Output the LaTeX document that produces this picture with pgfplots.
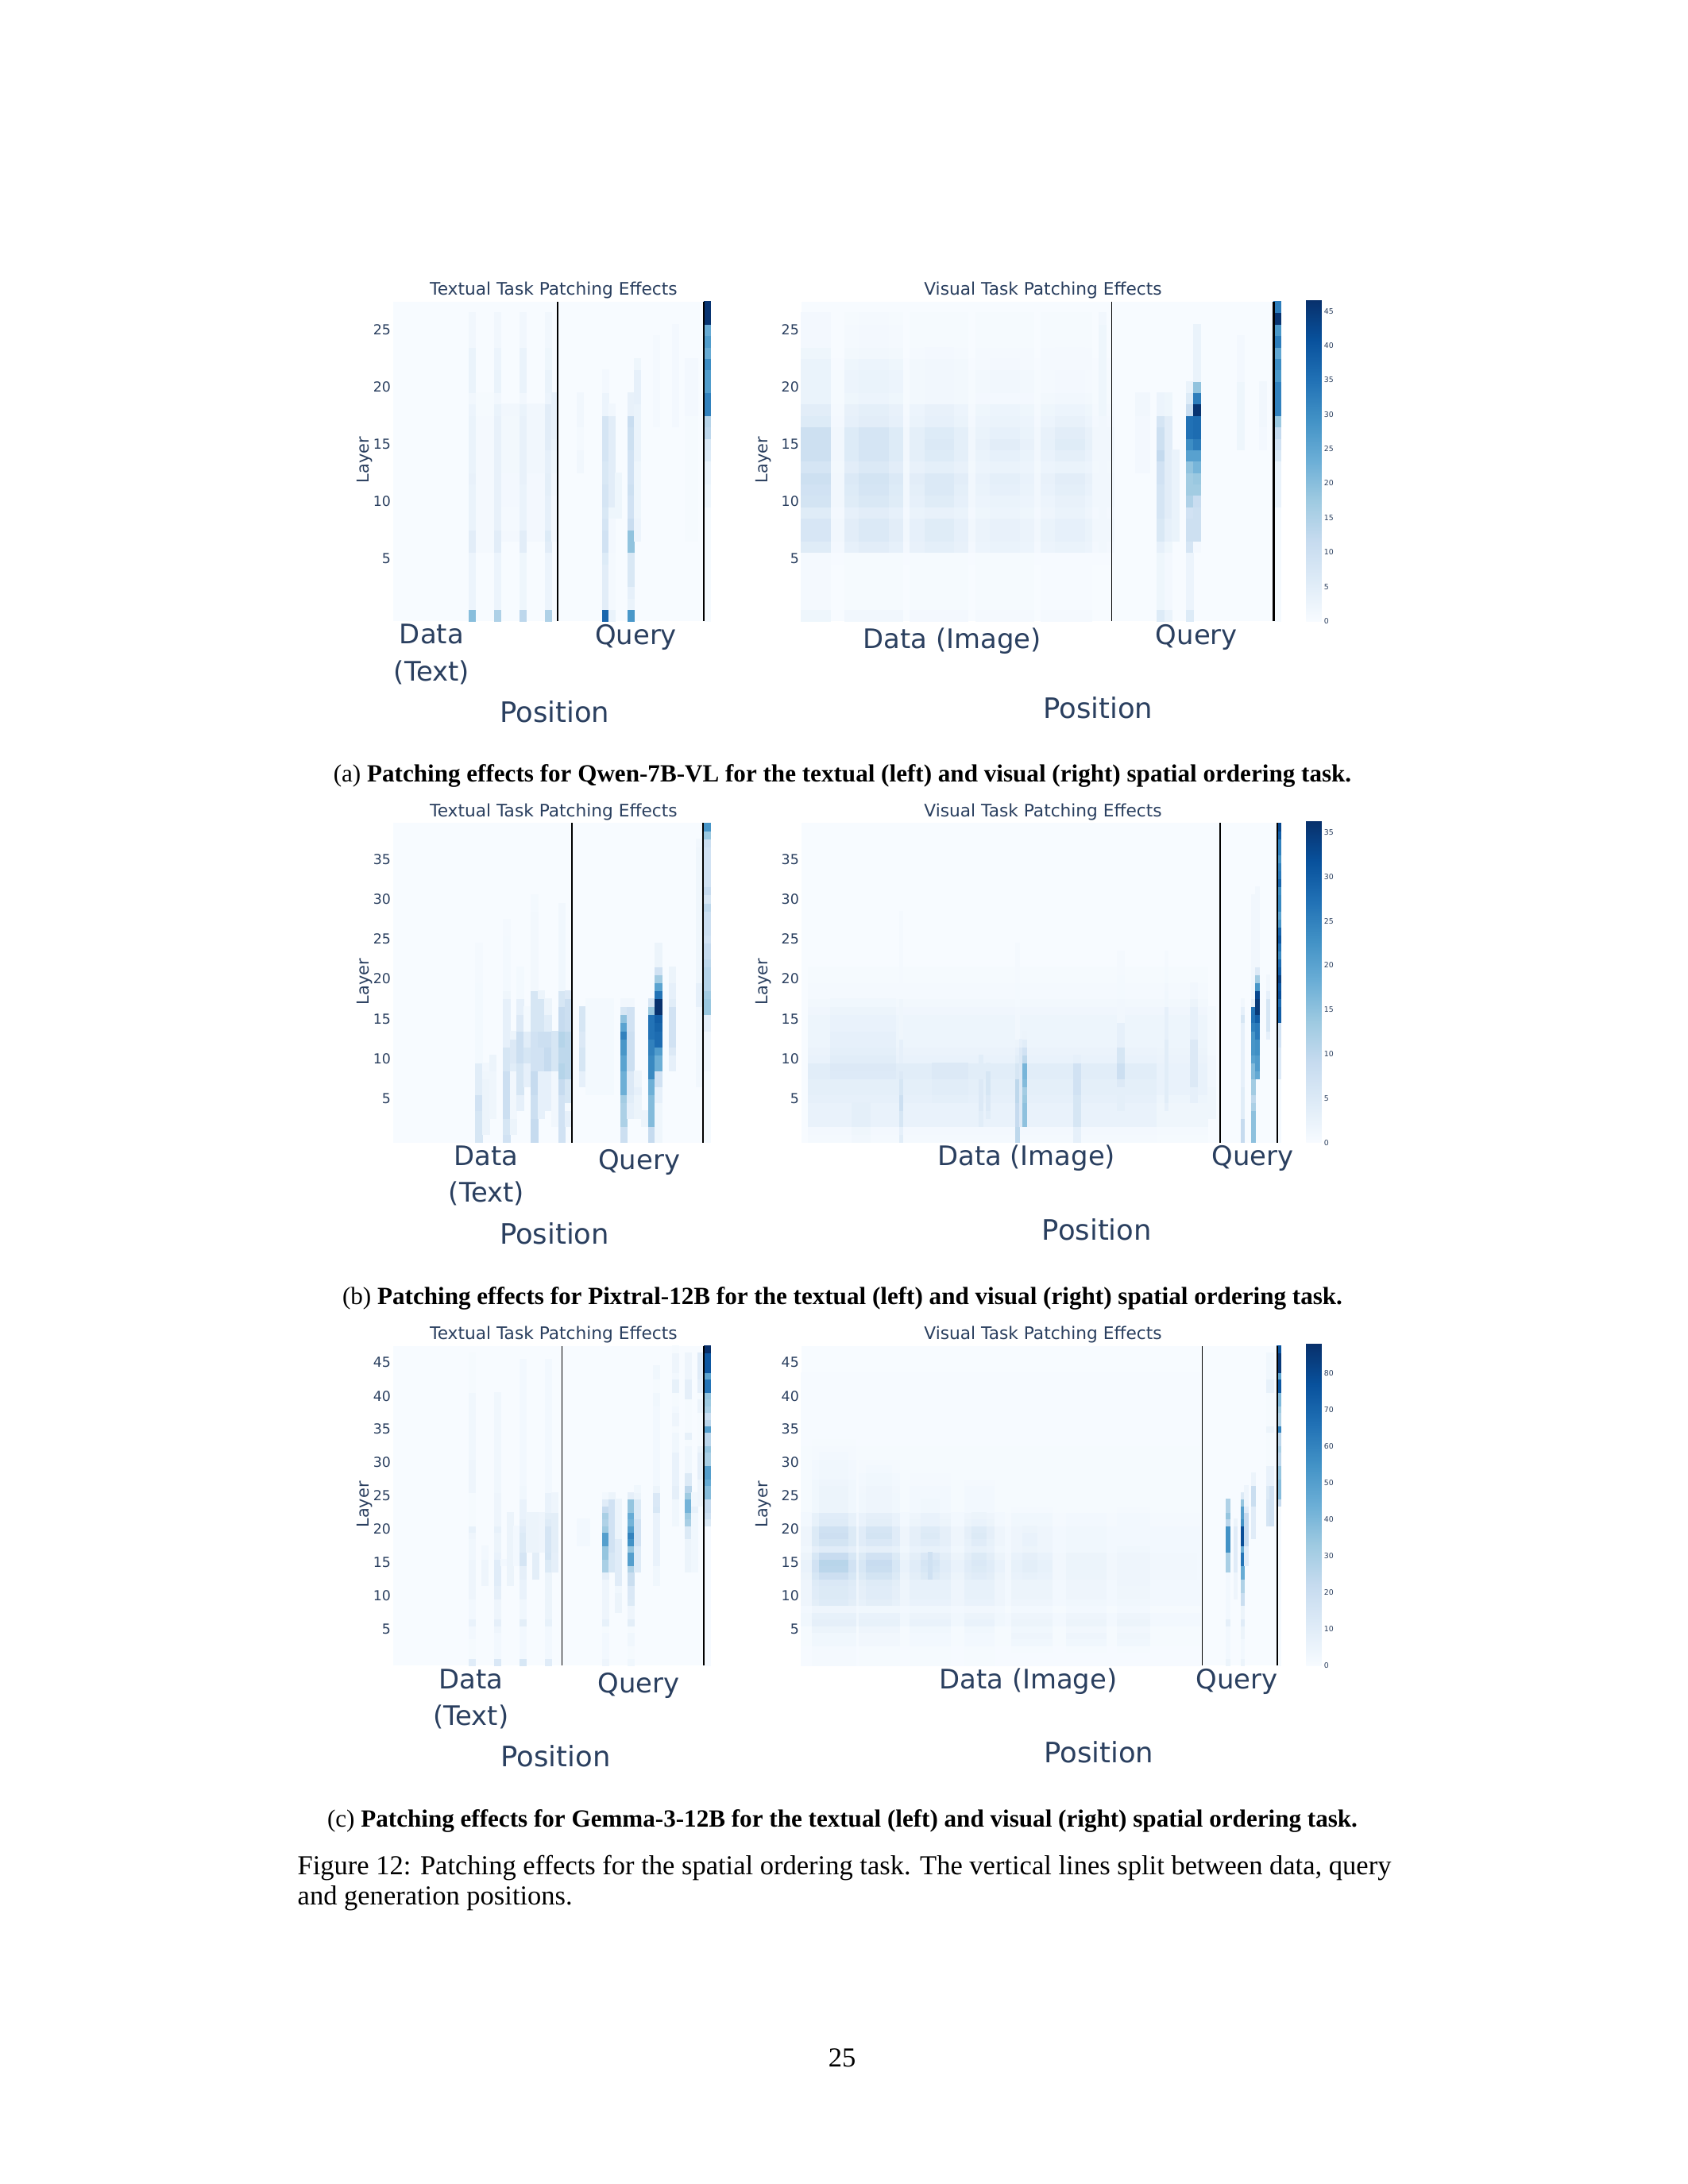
\documentclass[border=0pt]{standalone}
\usepackage{fontspec}
\usepackage{pgfplots}
\usepgfplotslibrary{patchplots}
\pgfplotsset{compat=1.18}
\setmainfont{Liberation Serif}
\newfontfamily\dejavu{DejaVu Sans}
\definecolor{ink}{HTML}{2A3F5F}
\definecolor{blues0}{HTML}{F7FBFF}
\newdimen\pxu \pxu=0.288pt

% cell lists: \Col{x0}{x1}{first row}{values going up}
\newcount\rowi
\newcommand\StartHeat{\gdef\heat{}}
\newcommand\Col[4]{%
  \global\rowi=#3\relax
  \foreach \val in {#4}{%
    \ifdim\val pt>0pt
      \xdef\heat{\heat (#1,\the\rowi) [\val] (#2,\the\rowi) [\val] (#2,\the\numexpr\rowi+1\relax) [\val] (#1,\the\numexpr\rowi+1\relax) [\val] }%
    \fi
    \global\advance\rowi by 1
  }%
}
\newcommand\PlotHeat[1]{%
  \edef\plotcmd{\noexpand\addplot[patch,patch type=rectangle,shader=flat,point meta=explicit,line width=0pt] coordinates {#1};}\plotcmd
}

\pgfplotsset{
  /pgf/number format/assume math mode=true,
  colormap={Blues}{rgb255=(247,251,255) rgb255=(222,235,247) rgb255=(198,219,239) rgb255=(158,202,225) rgb255=(107,174,214) rgb255=(66,146,198) rgb255=(33,113,181) rgb255=(8,81,156) rgb255=(8,48,107)},
  heatmap/.style={
    scale only axis, anchor=north west, colormap name=Blues,
    axis line style={draw=none}, major tick length=0pt, tick style={draw=none},
    axis background/.style={fill=blues0},
    xmin=0, ymin=0, point meta min=0,
    title={\dejavu #1 Task Patching Effects},
    title style={font=\fontsize{6.25}{7}\selectfont,text=ink,anchor=base,yshift=-13\pxu,xshift=2.5\pxu,inner sep=0pt},
    ylabel=Layer, xlabel=Position,
    y tick label style={font=\dejavu\fontsize{5}{6}\selectfont,text=ink,inner sep=0pt,xshift=-2\pxu},
  },
  left panel/.style={heatmap=Textual, width=399.6\pxu, height=402.5\pxu,
    every axis y label/.style={at={(axis description cs:-0.089,0.504)},rotate=90,anchor=center,font=\dejavu\fontsize{6}{7}\selectfont,text=ink}},
  right panel/.style={heatmap=Visual, width=604\pxu, height=402.5\pxu,
    every axis y label/.style={at={(axis description cs:-0.0785,0.504)},rotate=90,anchor=center,font=\dejavu\fontsize{6}{7}\selectfont,text=ink}},
  x place/.style n args={3}{every axis x label/.style={at={(axis description cs:#1,0)},anchor=base,yshift=-#2\pxu,font=\dejavu\fontsize{10.2}{12}\selectfont,text=ink,inner sep=0pt},
    x tick label style={font=\dejavu\fontsize{9.75}{13.3}\selectfont,text=ink,anchor=base,align=center,inner sep=0pt,yshift=-#3\pxu}},
  bar style/.style n args={2}{colorbar, colorbar style={at={(parent axis.south east)},anchor=south west,xshift=2.2\pxu,
    width=19.3\pxu,height=#1\pxu,axis line style={draw=none},major tick length=0pt,tick style={draw=none},ytick={#2},
    y tick label style={font=\dejavu\fontsize{2.7}{3}\selectfont,text=ink,inner sep=0pt,xshift=2.5\pxu}}},
}

% ---- Qwen textual, 28 layers x 50 positions, scale to 46.7
\StartHeat
\Col{13}{16}{6}{0.7,0.8,0.7,0.7,0.7,0.7,0.7,0.7,0.7,0.7,0.7,0.7,0.5,0.5}
\Col{17}{20}{7}{1,0.8,0.8,1,1,1,1.2,1.2,1.2,1.2,1.2,1.5}
\Col{21}{24}{7}{1,1,1,1,1,1,1.3,1.5,1.5,1.5,1.5,1.5}
\Col{12}{13}{0}{20,2.5,2.5,2.5,2.5,2.5,5,5,3,3,3,3,3.5,3,3,3,3,3,2.5,1.5,3,3,3,3,1.5,1.5,1.5}
\Col{16}{17}{0}{15,2.5,2.5,2.5,2.5,2.5,5,5,3.5,3.5,3.5,3.5,3.5,3.5,3.5,3.5,3.5,3.5,3,1.5,3,3,2.5,2.5,1.5,1.5,1.5}
\Col{20}{21}{0}{13,2,2,2,2,2,5,5,3,3,3,3,3.5,3.5,3.5,3.5,3.5,3.5,3,1.5,3,3,3,3,1.5,1.5,1.5}
\Col{24}{25}{0}{15,2.5,2.5,2.5,2.5,2.5,5,6,4,4,4,4.5,4.5,4,4,5,5,5,5,2.5,3,3,2,2,1.5,1.5,1.5}
\Col{25}{26}{7}{1,1,1,1,1.5,1.5,2,2,3,3.5,3.5,3.5,3.5}
\Col{29}{30}{13}{1.5,1.5,0.7,0.7,1.5,1.5,1.5}
\Col{33}{34}{0}{37,5,5,5,5,6,9,9,8,7,8,8,7,7,8,8,8,8,2.5,2.5,1,1}
\Col{34}{35}{0}{3,0.7,0.7,0.7,0.7,0.7,1,1,1,2,5,5,5,5,5,5,5,5,1.5}
\Col{35}{36}{9}{2,2,2,2}
\Col{37}{38}{0}{28,3,4,7,7,7,19,19,11,9,9,10,9,9,9,10,10,11,3.5,3.5}
\Col{38}{39}{7}{2.5,2.5,2,2,2,2,2,3,3,3,3,3,4,4,4,2}
\Col{41}{42}{17}{0.7,0.7,0.7,0.7,0.7,0.7,0.7,0.7}
\Col{44}{45}{17}{1,1,1,1,1,1,1,1,1}
\Col{46}{48}{7}{0.5,0.5,0.5,0.5,0.5,0.5,0.5,0.5,0.5,0.5,0.5,1,1,1,1,1}
\Col{49}{50}{0}{0.5,0.5,0.5,0.5,0.5,0.5,0.5,0.5,0.5,0.5,2,2,3,3,6,7,13,14,32,32,27,27,30,24,27,24,46,46}
\global\let\heatQT\heat

% ---- Qwen visual, 28 layers x 66 positions, scale to 46.7
\StartHeat
\Col{0}{43}{5}{0.3,1,1.5,1.5,1,1.5,1.5,1.5,1.2,1.5,1.5,1.5,1,0.8,0.5,0.5,0.5,0.3}
\Col{0}{4}{0}{2,0.8,0.8,0.8,0.8,0.8,5.5,7.5,7.5,5.5,8.5,9,10,8,10,10,10,6,5,3,3,3,3,2,1,1,1}
\Col{6}{14}{0}{1.5,0.5,0.5,0.5,0.5,0.5,4,5,5,4,5.5,6,6.5,5,6,6,6,4,3.5,2,2.5,2.5,2,1.2,0.8,0.8,0.5}
\Col{8}{12}{5}{0.5,5,6.5,6.5,5,7,8,8.5,6.5,8,8,8,5,4.5,2.5,3,3,2.5,1.5,1,1,0.7}
\Col{15}{23}{0}{1,0.5,0.5,0.5,0.5,0.5,3.5,4,4,3,4,4.5,5,3.5,4.5,4.5,4.5,3,2.5,1.2,1.2,1.2,1.2,0.8,0.5,0.5,0.5}
\Col{17}{21}{6}{4.5,5.5,5.5,3.5,5.5,6.5,6.5,4.5,6,6.5,6,4,3.5,1.5,1.5,1.5,1.5,1}
\Col{24}{32}{0}{0.8,0.4,0.4,0.4,0.4,0.4,2.5,2.8,2.8,2,2.5,3,3.2,2.5,3,3.5,3,2.5,2,1,1.2,1.2,0.8,0.6,0.4,0.4,0.4}
\Col{26}{30}{6}{3,3.5,3.5,2.5,3,4,4.5,3,4,5,4,3,2.5,1,1.5,1.5,1}
\Col{33}{40}{0}{0.8,0.3,0.3,0.3,0.3,0.3,2.5,3,3,2.2,2.5,3.2,3.5,2.5,3.2,3.8,3.5,2.5,2,1.2,0.8,0.8,0.6,0.6,0.4,0.4,0.4}
\Col{35}{39}{6}{3,4,4,3,3.5,4.5,5,3,4.5,5.5,5,3.5,2.5,1.5,1,1,0.7,0.7}
\Col{41}{42}{6}{1.5,1.5,1.5,1.5,1.5,1.5,1.5,1.5,1.5,1.5,1.5,1.5,2,2,2,2,2,2,2,2,1.5}
\Col{46}{48}{13}{1,1,1,1,1,1.5,1.5}
\Col{49}{50}{0}{6,2,2,2,2,2,4,7,7,8,8,8,9,9,12,10,10,8,2.5,2.5}
\Col{50}{51}{0}{3,1,1,1,1,1,2,4,4,5,5,5,5,5,5,5,5,5,2,2}
\Col{51}{52}{7}{3,3,3,3,3,3,3,3}
\Col{53}{54}{0}{6,2.5,2.5,2.5,2.5,2.5,8,10,10,9,15,17,17,19,26,30,35,35,11,6,3}
\Col{54}{55}{6}{1,10,10,10,11,17,18,22,26,33,36,36,46,33,19,3,3,3,3,3}
\Col{60}{61}{15}{2,2,2,2,2,2,1,1,1,1}
\Col{63}{64}{15}{1,1,1.5,1.5,1.5,1.5}
\Col{65}{66}{0}{0.5,0.5,0.5,0.5,0.5,0.5,0.5,0.5,0.5,0.5,3,3,3,3,7,9,12,18,32,32,32,28,30,25,33,28,46,33}
\global\let\heatQV\heat

% ---- Pixtral textual, 40 layers x 46 positions, scale to 36.3
\StartHeat
\Col{12}{13}{0}{6,6,6,6,7,7,4,4,4,4,0.7,0.7,0.7,0.7,0.7,0.7,0.7,0.7,0.7,0.7,0.5,0.5,0.5,0.5,0.5}
\Col{13}{14}{1}{2,2,2,2,2,2,2,1.5,1}
\Col{14}{15}{3}{1.5,1.5,1.5,1.5,1.5,1.5,2,2}
\Col{16}{17}{0}{7,6,6,8,8,8,8,8,8,6,6,6,3,3,3,3,3,3,1.5,0.7,0.7,0.7,0.7,0.7,0.7,0.7,0.5,0.5}
\Col{17}{18}{1}{2,2,1,1,1,1,1,1,4,5,5,5,2}
\Col{18}{19}{4}{3,3,6,6,6,6,8,8,8,8,5,5,3,3,0.7,0.7,0.7,0.7}
\Col{19}{20}{7}{3,3,3,6,6,4,4,0.7,0.7,0.7}
\Col{20}{21}{0}{9,9,9,8,8,8,9,9,9,7,7,7,7,7,6,6,6,6,6,0.9,0.9,0.9,0.9,0.9,0.9,0.9,0.9,0.9,0.9,0.7,0.7}
\Col{21}{22}{3}{3,3,3,3,3,3,7,7,7,8,8,6,6,6,6,2}
\Col{22}{23}{4}{3,3,3,3,3,9,9,9,8,8,4,4,2,2}
\Col{23}{24}{2}{1,1,1,1,1,1,1,6,6,6,6,6}
\Col{24}{25}{0}{7,7,7,7,7,7,9,9,11,11,10,10,11,11,9,9,9,6,6,1.2,1.2,1.2,1.2,1.2,1.2,1.2,1.2,1.2,1,1}
\Col{25}{26}{2}{3,3,0.5,6,6,6,10,10,10,10,10,10,8,8,8,8,5}
\Col{27}{28}{7}{3,3,6,6,6,5,5,6,6,6}
\Col{28}{32}{6}{0.7,0.7,0.7,0.7,0.7,0.7,0.7,0.7,0.7,0.7,0.7,0.7}
\Col{33}{34}{0}{8,8,12,12,12,13,18,18,18,20,20,22,22,25,20,15,6,1}
\Col{34}{35}{3}{3,3,4,5,5,5,8,8,8,8,8,7,7,7,1}
\Col{35}{36}{3}{2,2,2,3,2,2}
\Col{36}{37}{2}{2,2}
\Col{37}{38}{0}{9,9,16,16,16,16,18,18,24,24,24,25,25,27,27,27,14,6}
\Col{38}{39}{0}{1.5,1.5,1.5,1.5,1.5,3,3,7,7,18,18,21,28,28,29,30,36,36,27,20,13,7,2,2,2}
\Col{40}{41}{9}{3,3,5,7,7,7,7,7,4,3,3,2,2}
\Col{44}{45}{7}{1,1,1,1,1,1,1,1,1,1,3,3,3,1.5,1.5,1.5,1.5,1.5,1.5,1.5,1.5,1.5,1.5,1.5,1.5,1.5,1.5,1.5,1.5,1.5,1}
\Col{45}{46}{0}{0.3,0.3,0.3,0.3,0.3,0.3,0.3,0.3,0.3,1,1,1,1,1,3,3,14,14,13,11,11,11,10,9,9,7,8,8,8,10,6,9,7,7,7,7,7,8,14,22}
\global\let\heatPT\heat

% ---- Pixtral visual, 40 layers x 132 positions, scale to 36.3
\StartHeat
\Col{2}{98}{0}{0.6,0.8,2.5,2.5,2.5,3,3.5,3.5,4,4,2.5,2.2,1.8,1.8,1.8,1.8,1.3,0.9,0.6,0.6,0.4,0.4}
\Col{98}{112}{0}{0.4,0.6,1.5,1.5,1.5,1.8,2.5,2.5,2.5,2.5,2.2,2,1.8,1.8,1.8,1.8,1.3,0.9,0.6,0.6,0.4,0.4}
\Col{8}{26}{8}{4.8,5,4,3.5,3,3,2.5,2.5,2,1.2}
\Col{14}{19}{0}{1,1.5,3.5,3.5,3.5}
\Col{27}{28}{0}{4,3,6,6,8,8,6,6,5,4,3,3,3,1.5,1.5,1.5,1.5,1.5,0.5,0.5,0.5,0.5,0.5,0.5,0.5,0.5,0.5,0.5,0.5}
\Col{36}{46}{5}{3.5,4,4,5,5}
\Col{49}{50}{2}{4,4,5,5,5,5,4,4,4}
\Col{51}{52}{3}{4,5,5,6,6,6,4}
\Col{59}{60}{0}{10,10,9,9,9,10,10,10,6,6,4,3,2,1,1,1,1,0.7,0.7,0.7,0.5,0.5,0.5,0.5,0.5}
\Col{60}{61}{2}{5,5,5,5,5,5,5,5,5,5,3}
\Col{61}{62}{2}{15,15,15,14,13,16,17,17,10,7,4,2}
\Col{75}{77}{0}{3,3,6,6,6,6,7,7,7,7,3}
\Col{87}{89}{4}{3.5,3.5,3.5,5,8,8,6,6,3,3,3,1,1,1,0.7,0.7,0.7,0.5,0.5,0.5}
\Col{100}{101}{4}{3,4,4,4,4,4,4,4,4,3,3,3,3,1.2,1.2,1,0.7,0.7,0.5,0.5}
\Col{107}{109}{5}{3,3,5,5,5,5,5,5,3,3,3,3,2,1,1}
\Col{112}{114}{3}{1.5,1.5,1.5,1.5,1,1,1,1,0.7,0.7,0.7,0.7,0.7,0.7}
\Col{121}{122}{0}{9,9,9,4,4,4,4,3,3,3,3,3,3,3,3,6,3,1}
\Col{124}{125}{0}{15,15,15,15,12,10,13,13,16,16,20,22,22,22,25,27,27,3,1,1,1,1,1,1,1,1,1,1,1,1,1}
\Col{125}{126}{8}{19,21,21,23,23,26,26,30,35,35,33,22,13,5,1,1,1,1,1,1,1,1,1,1}
\Col{128}{129}{13}{3,6,6,6,6,3,1,1}
\Col{131}{132}{0}{0.5,0.5,0.5,0.5,0.5,0.5,0.5,0.5,5,5,5,5,7,7,7,30,30,28,32,31,34,30,28,24,27,31,29,22,20,24,24,23,29,26,25,22,25,25,30,33}
\global\let\heatPV\heat

% ---- Gemma textual, 48 layers x 50 positions, scale to 88
\StartHeat
\Col{12}{13}{0}{10,1,1,1,2,2,6,2,2,2,4,4,4,4,4,4,3,3,3,4,7,1,1,1,1,1,4,4,4,4,4,3,3,3,3,3,3,3,3,3,3,1,1,1,1,1,1}
\Col{14}{15}{12}{4,4,4,4,2,2}
\Col{16}{17}{0}{13,2,2,2,2,4,8,4,4,4,8,8,10,10,10,10,6,5,5,5,7,4,4,4,4,4,3,3,3,3,3,3,3,3,3,3,3,3,3,3,3}
\Col{17}{18}{15}{2}
\Col{18}{19}{12}{5,5,5,5,5,5,5,5,5,5,5}
\Col{19}{20}{15}{2,2,2,2,2,2}
\Col{20}{21}{0}{14,2,2,2,2,2,9,3,3,3,6,6,6,8,8,15,15,12,12,12,10,8,6,6,6,3,3,2,2,2,2,2,2,2,2,2,2,2,2,2,2,2,2,2,2,2}
\Col{21}{22}{17}{5,5,5,5,5,5}
\Col{22}{23}{13}{9,9,9,9,5,5,5,5,5,5}
\Col{23}{24}{17}{4,4,4,4,4,4}
\Col{24}{25}{0}{10,2,2,2,2,2,7,5,5,5,5,5,5,5,12,12,16,15,15,15,15,11,9,6,6,6,2,2,2,2,2,2,2,2,2,2,2,2,2,2,2,2,2,2,2,2}
\Col{25}{26}{14}{8,8,8,9,9,9,9,9,9,4,4,4}
\Col{29}{31}{18}{2,2,2,2}
\Col{33}{34}{0}{4,2,2,2,2,1,7,4,4,4,4,4,4,8,30,30,35,35,50,50,33,28,30,22,10,2}
\Col{34}{35}{14}{14,14,14,17,17,17,17,17,17,17,17,5}
\Col{35}{36}{8}{5,5,5,3,10,10,10,10,10,10,10,5,5,5,5,5,5}
\Col{37}{38}{0}{3,1,1,3,3,1,9,4,4,12,13,13,20,20,28,50,50,35,55,60,50,42,45,35,35,8}
\Col{38}{39}{14}{11,11,11,11,17,17,17,17,12,12,12,5,3}
\Col{41}{42}{12}{3,3,3,6,6,6,6,6,6,6,6,14,13,13,5,2,2,2,2,2,2,2,2,2,2,2,2,3,3,1,1,3,3}
\Col{44}{45}{21}{3,3,3,3,8,8,6,6,6,6,6,3,3,3,1,4,4,2,1,1,7,7,2,4,4,4,1}
\Col{46}{47}{14}{5,5,5,5,5,12,12,30,33,42,42,33,25,12,12,3,3,3,3,1,7,1,1,1,1,1,8,8,8,4,4,4,4}
\Col{47}{48}{14}{3,3,3,3,3,3,3,3,3,7,3,3}
\Col{48}{49}{24}{4,4,4,4,8,8,8,8,5,1,1,1,1,1,5,5,1,8,8,10,10,10,10}
\Col{49}{50}{0}{0.5,0.5,0.5,0.5,0.5,0.5,0.5,0.5,0.5,0.5,0.5,0.5,0.5,0.5,0.5,0.5,0.5,0.5,0.5,0.5,0.5,12,18,22,22,38,38,45,50,50,30,30,35,25,25,50,25,20,30,33,35,65,65,48,75,75,75,88}
\global\let\heatGT\heat

% ---- Gemma visual, 48 layers x 132 positions, scale to 88
\StartHeat
\Col{0}{110}{0}{0.5,0.5,0.5,1,1,1,2,2,1,2,2,2,2,2.5,2.5,2.5,2.5,2,2,2,2,1.5,1.5,1,1,1,1,0.7,0.7,0.7,0.7,0.7,0.7,0.5,0.5,0.5,0.5,0.5,0.5,0.5,0.5,0.5,0.5,0.5}
\Col{0}{56}{6}{3,3,2,4,4,4,4,5,6,6,5,3,4,4,4,2,2}
\Col{3}{15}{0}{1.5,1.5,1.5,3,3,5,8,7,4,9,10,10,11,14,17,17,14,8,12,12,12,7,7,3,3,3,3,3,2,2,2,1.5,1.5,1}
\Col{5}{13}{9}{11,12,12,13,19,25,26,21,10,16,19,18,11,10,5,5,5,5,4,3,3,3,2}
\Col{16}{27}{0}{1,1,1,2.5,2.5,4,7,6,3,7,8,8,9,12,14,14,12,7,10,10,10,6,6,3,3,3,2.5,2,2,1.5,1.5,1}
\Col{18}{25}{9}{9,10,10,11,16,20,21,17,8,13,16,15,9,8,4,4,4,4,3,3,2}
\Col{30}{41}{0}{1,1,1,2,2,3,6,5,3,6,7,7,7,9,10,10,9,6,8,8,8,5,4,2,2,2,2,1.5,1.5,1}
\Col{33}{38}{13}{12,14,15,13,7,10,12,11,6,6,3,3}
\Col{35}{36}{13}{18,18,18,18}
\Col{45}{53}{0}{1,1,1,2,2,3,6,5,2.5,6,7,7,7,9,10,10,9,6,7,8,8,5,4,2,2,2,2,1.5,1,1}
\Col{47}{51}{13}{10,12,13,12,7,10,12,11,6,5}
\Col{58}{69}{0}{0.5,0.5,1,3,4,3,5,4,2,4,5,5,5,6,7,7,6,4,4,4,4,3,3,1.5,1,1}
\Col{61}{65}{13}{7,9,9,8,5,6,6,5}
\Col{73}{84}{0}{0.5,0.5,1,3,4,2.5,5,4,2,3,4,4,4,5,5,5,5,3,3,3,3,2,2,1}
\Col{87}{96}{0}{0.5,0.5,1,3,3.5,2.5,5,4,2,3,3.5,3.5,4,4,4,4,4,3,2,2,2,2,2,1.5,1,1}
\Col{109}{110}{9}{2,2,2,2,2,2,2,2,2}
\Col{117}{118}{0}{5,2,2,2,2,2,8,2,2,2,2,2,2,2,30,30,30,55,55,55,55,25,35,28,28}
\Col{119}{120}{10}{4,4,4,4,10,10,10,10,10,10,10,5}
\Col{121}{122}{0}{5,2,2,2,5,5,10,5,5,20,20,28,28,45,45,65,65,45,78,78,78,55,50,50,35,12}
\Col{122}{123}{15}{10,10,10,22,22,22,22,22,10,4,4,4}
\Col{124}{125}{19}{10,10,10,10,10,20,20,20,5,5}
\Col{128}{129}{21}{15,15,15,15,12,12,6,6,6,1,1,1,1,1,5,1,1,1,1,1,7,7,3,3,3,3}
\Col{129}{130}{21}{17,17,17,17,17,17,6,6,6,1,1,1,1,1,5,1,1,1,1,1,7,7,3,3,3,3}
\Col{131}{132}{0}{1,1,1,1,1,1,1,1,1,1,1,1,1,1,1,1,1,1,1,1,1,1,1,1,22,38,38,38,35,35,25,25,30,25,25,60,28,28,33,40,40,75,75,48,85,85,85,75}
\global\let\heatGV\heat

\begin{document}
\begin{tikzpicture}
\path[use as bounding box,fill=white] (0,0) rectangle (2125\pxu,-2750\pxu);

% (a) Qwen
\begin{axis}[left panel, at={(494.6\pxu,-379.5\pxu)}, xmax=50, ymax=28, point meta max=46.7,
  ytick={5.5,10.5,15.5,20.5,25.5}, yticklabels={5,10,15,20,25},
  xtick={6.1,38.28}, xticklabels={{Data\\(Text)},{\raisebox{46\pxu}{Query}}},
  x place={0.510}{127.7}{75}]
\PlotHeat\heatQT
\addplot[black,line width=0.35pt] coordinates {(25.94,0) (25.94,28)};
\addplot[black,line width=0.35pt] coordinates {(48.96,0) (48.96,28)};
\end{axis}
\begin{axis}[right panel, at={(1008.5\pxu,-379.5\pxu)}, xmax=66, ymax=28, point meta max=46.7,
  ytick={5.5,10.5,15.5,20.5,25.5}, yticklabels={5,10,15,20,25},
  xtick={20.8,54.4}, xticklabels={{\raisebox{-5\pxu}{Data (Image)}},{Query}},
  x place={0.619}{122.6}{29}, bar style={405}{0,5,10,15,20,25,30,35,40,45}]
\PlotHeat\heatQV
\addplot[black,line width=0.4pt] coordinates {(42.7,0) (42.7,28)};
\addplot[black,line width=0.6pt] coordinates {(65.02,0) (65.02,28)};
\end{axis}

% (b) Pixtral
\begin{axis}[left panel, at={(494.6\pxu,-1036.4\pxu)}, xmax=46, ymax=40, point meta max=36.3,
  ytick={5.5,10.5,15.5,20.5,25.5,30.5,35.5}, yticklabels={5,10,15,20,25,30,35},
  xtick={13.55,35.7}, xticklabels={{Data\\(Text)},{\raisebox{41\pxu}{Query}}},
  x place={0.509}{127.5}{75}]
\PlotHeat\heatPT
\addplot[black,line width=0.6pt] coordinates {(26,0) (26,40)};
\addplot[black,line width=0.5pt] coordinates {(44.97,0) (44.97,40)};
\end{axis}
\begin{axis}[right panel, at={(1008.5\pxu,-1036.4\pxu)}, xmax=132, ymax=40, point meta max=36.3,
  ytick={5.5,10.5,15.5,20.5,25.5,30.5,35.5}, yticklabels={5,10,15,20,25,30,35},
  xtick={62.0,124.2}, xticklabels={{Data (Image)},{Query}},
  x place={0.6166}{122.5}{29}, bar style={405.5}{0,5,10,15,20,25,30,35}]
\PlotHeat\heatPV
\addplot[black,line width=0.6pt] coordinates {(115.2,0) (115.2,40)};
\addplot[black,line width=0.6pt] coordinates {(130.97,0) (130.97,40)};
\end{axis}

% (c) Gemma
\begin{axis}[left panel, at={(494.6\pxu,-1694.8\pxu)}, xmax=50, ymax=48, point meta max=88,
  ytick={5.5,10.5,15.5,20.5,25.5,30.5,35.5,40.5,45.5}, yticklabels={5,10,15,20,25,30,35,40,45},
  xtick={12.31,38.74}, xticklabels={{Data\\(Text)},{\raisebox{41\pxu}{Query}}},
  x place={0.513}{127.6}{75}]
\PlotHeat\heatGT
\addplot[black,line width=0.4pt] coordinates {(26.64,0) (26.64,48)};
\addplot[black,line width=0.4pt] coordinates {(48.96,0) (48.96,48)};
\end{axis}
\begin{axis}[right panel, at={(1008.5\pxu,-1694.8\pxu)}, xmax=132, ymax=48, point meta max=88,
  ytick={5.5,10.5,15.5,20.5,25.5,30.5,35.5,40.5,45.5}, yticklabels={5,10,15,20,25,30,35,40,45},
  xtick={62.5,119.9}, xticklabels={{Data (Image)},{Query}},
  x place={0.6205}{122.6}{29}, bar style={405.4}{0,10,20,30,40,50,60,70,80}]
\PlotHeat\heatGV
\addplot[black,line width=0.4pt] coordinates {(110.4,0) (110.4,48)};
\addplot[black,line width=0.6pt] coordinates {(130.97,0) (130.97,48)};
\end{axis}

% caption text
\begin{scope}[every node/.style={inner sep=0pt}]
\begin{scope}[every node/.append style={font=\fontsize{8.96}{11}\selectfont}]
\node[anchor=base] at (1060.5\pxu,-984\pxu) {(a) \textbf{Patching effects for Qwen-7B-VL for the textual (left) and visual (right) spatial ordering task.}};
\node[anchor=base] at (1060.5\pxu,-1642\pxu) {(b) \textbf{Patching effects for Pixtral-12B for the textual (left) and visual (right) spatial ordering task.}};
\node[anchor=base] at (1060.5\pxu,-2300\pxu) {(c) \textbf{Patching effects for Gemma-3-12B for the textual (left) and visual (right) spatial ordering task.}};
\end{scope}
\begin{scope}[every node/.append style={font=\fontsize{9.94}{12}\selectfont}]
\node[anchor=base west] at (374\pxu,-2360\pxu) {Figure 12: Patching effects for the spatial ordering task. The vertical lines split between data, query};
\node[anchor=base west] at (374\pxu,-2398\pxu) {and generation positions.};
\node[anchor=base] at (1060\pxu,-2602\pxu) {25};
\end{scope}
\end{scope}
\end{tikzpicture}
\end{document}
